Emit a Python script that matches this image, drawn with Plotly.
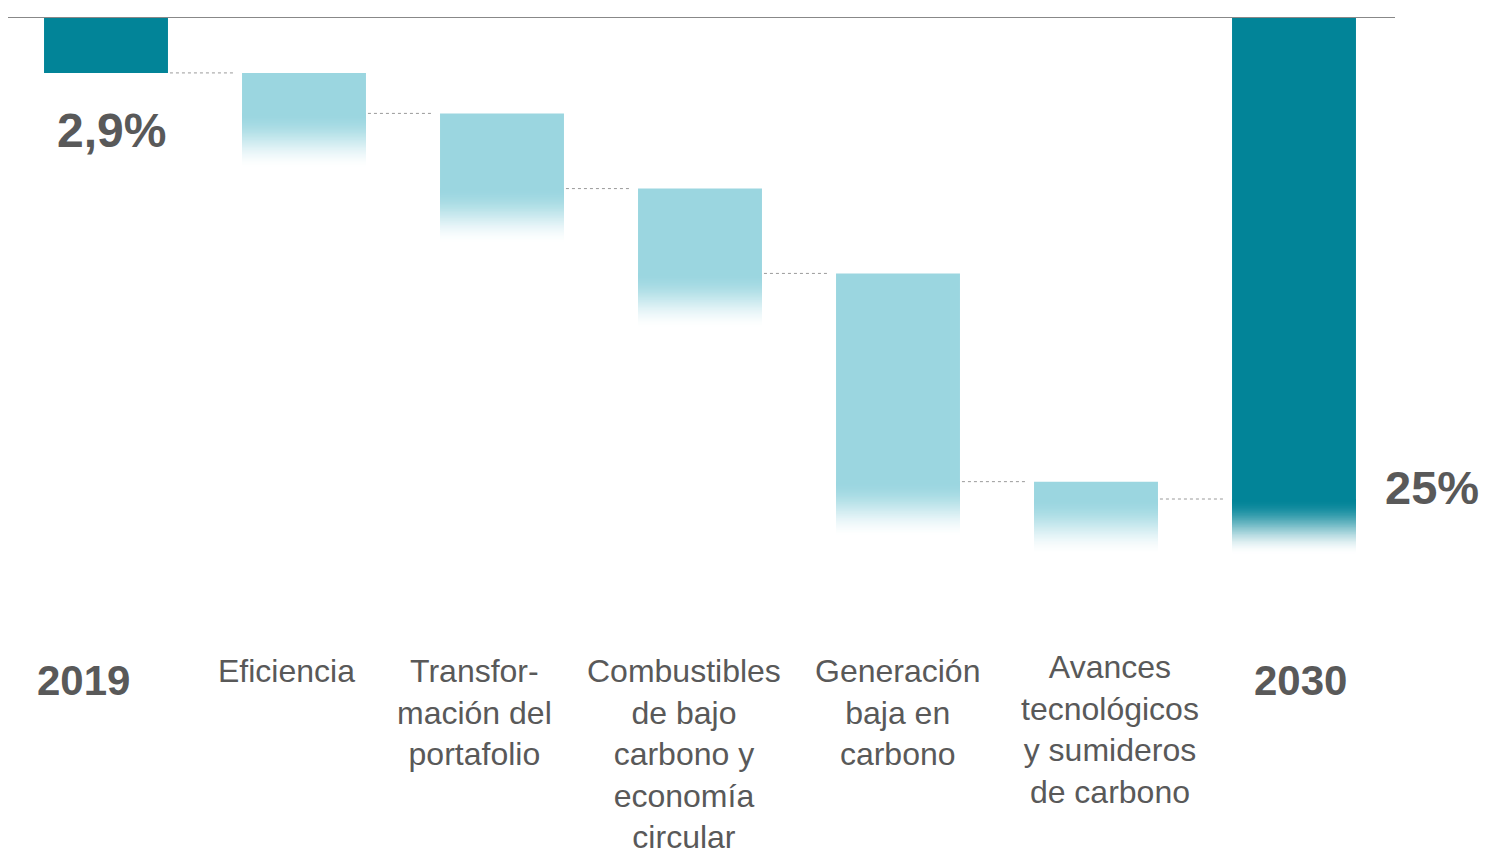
import plotly.graph_objects as go

# ---- data ----
categories = ["2019", "Eficiencia", "Transfor-<br>mación del<br>portafolio",
              "Combustibles<br>de bajo<br>carbono y<br>economía<br>circular",
              "Generación<br>baja en<br>carbono",
              "Avances<br>tecnológicos<br>y sumideros<br>de carbono", "2030"]
start_value = 2.9          # 2019
step_values = [2.1, 3.9, 4.4, 10.8, 0.9]
end_value = 25.0           # 2030
value_labels = ["2,9%", "25%"]

# ---- style ----
DARK = (2, 132, 152)
LIGHT = (155, 214, 224)
TXT = "#595959"
FONT = "Liberation Sans, Arial, sans-serif"
BW = 0.626
PX_PER_UNIT = 19.28
TOP_PX = 17          # page px of the top line
OFF = 8              # page body margin
W = 1487 - OFF
H = 854 - OFF
PLOT_RIGHT = 1395    # page px

def dx(page_px):
    return (page_px - 106) / 198

def py(page_px):
    return (page_px - TOP_PX) / PX_PER_UNIT

levels = [start_value]
for s in step_values:
    levels.append(levels[-1] + s)

fig = go.Figure()

fig.add_trace(go.Bar(x=[0, 6], base=[0, 0], y=[start_value, end_value], width=BW,
                     marker=dict(color="rgb(%d,%d,%d)" % DARK, line=dict(width=0))))
fig.add_trace(go.Bar(x=[1, 2, 3, 4, 5], base=levels[:-1], y=step_values, width=BW,
                     marker=dict(color="rgb(%d,%d,%d)" % LIGHT, line=dict(width=0))))

# gradient fade below bars 1..6 (overlapping opaque layers, longest first)
fade_x = [1, 2, 3, 4, 5, 6]
fade_base = levels[1:] + [end_value]
fade_col = [LIGHT] * 5 + [DARK]
N = 40
F = 2.9
for k in range(N):
    t = 1 - k / N                      # fraction of fade length for this layer end
    tm = t - 0.5 / N
    a = 1 - (3 * tm * tm - 2 * tm ** 3)
    cols = ["rgb(%d,%d,%d)" % tuple(round(255 + (cc - 255) * a) for cc in c) for c in fade_col]
    fig.add_trace(go.Bar(x=fade_x, base=fade_base, y=[F * t] * len(fade_x), width=BW,
                         marker=dict(color=cols, line=dict(width=0))))

# connectors
cx, cy = [], []
for i in range(6):
    L = levels[i]
    cx += [i + BW / 2 + 0.01, i + 1 - BW / 2 - 0.035, None]
    cy += [L, L, None]
fig.add_trace(go.Scatter(x=cx, y=cy, mode="lines",
                         line=dict(color="#9a9a9a", width=1, dash="dot")))

ymax = py(854)
x0 = dx(OFF)
x1 = dx(PLOT_RIGHT)

fig.add_shape(type="line", x0=x0, x1=x1, y0=0, y1=0,
              line=dict(color="#888888", width=2))

fig.add_annotation(x=0.03, y=py(130), xref="x", yref="y", text="<b>%s</b>" % value_labels[0],
                   showarrow=False, xanchor="center", font=dict(family=FONT, size=48, color=TXT))
fig.add_annotation(x=(1432 - OFF) / (PLOT_RIGHT - OFF), y=py(487), xref="paper", yref="y",
                   text="<b>%s</b>" % value_labels[1], xanchor="center",
                   showarrow=False, font=dict(family=FONT, size=47, color=TXT))

shifts = [-23, -18, -28, -16, -1, 14, 6]
for i, c in enumerate(categories):
    if i in (0, 6):
        fig.add_annotation(x=i, y=py(680), xref="x", yref="y", text="<b>%s</b>" % c,
                           showarrow=False, xshift=shifts[i], yanchor="middle",
                           font=dict(family=FONT, size=42, color=TXT))
    else:
        top = 647 if i == 5 else 651
        fig.add_annotation(x=i, y=py(top), xref="x", yref="y", text=c,
                           showarrow=False, xshift=shifts[i], yanchor="top",
                           align="center",
                           font=dict(family=FONT, size=32, color=TXT))

fig.update_layout(
    width=W, height=H,
    margin=dict(l=0, r=W - (PLOT_RIGHT - OFF), t=TOP_PX - OFF, b=0),
    plot_bgcolor="white", paper_bgcolor="white",
    barmode="overlay", showlegend=False, hovermode=False,
    xaxis=dict(range=[x0, x1], visible=False),
    yaxis=dict(range=[ymax, 0], visible=False),
)

fig.write_html("out.html")
